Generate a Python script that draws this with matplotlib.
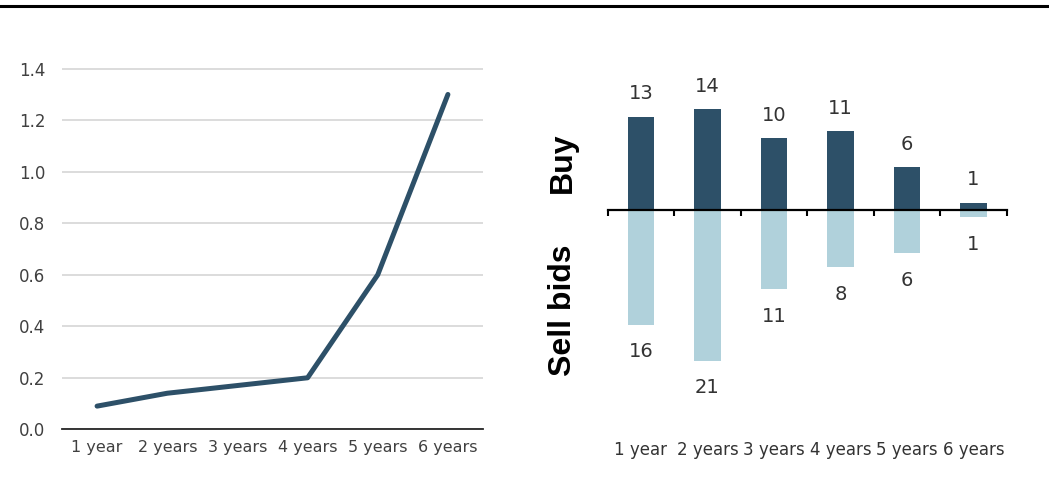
import numpy as np
import matplotlib.pyplot as plt
from matplotlib.lines import Line2D
import matplotlib.transforms as mtransforms

# data
categories = ['1 year', '2 years', '3 years', '4 years', '5 years', '6 years']
line_values = [0.09, 0.14, 0.17, 0.20, 0.60, 1.30]
buy_bids = [13, 14, 10, 11, 6, 1]
sell_bids = [16, 21, 11, 8, 6, 1]

dark = '#2D5068'
light = '#B0D1DB'
txt = '#333333'

plt.rcParams['font.family'] = ['DejaVu Sans']

fig = plt.figure(figsize=(10.49, 4.80), dpi=100)

# top rule
fig.add_artist(Line2D([0, 1], [1 - 6 / 480, 1 - 6 / 480], color='black', lw=2.2,
                      transform=fig.transFigure))

# left: line chart
ax1 = fig.add_axes([62 / 1049, 1 - 429.3 / 480, 421 / 1049, 360.6 * 1.41 / 1.4 / 480])
x = np.arange(len(categories))
ax1.plot(x, line_values, color=dark, lw=3.6, solid_capstyle='round', solid_joinstyle='round',
         zorder=3)
ax1.set_xlim(-0.5, len(categories) - 0.5)
ax1.set_ylim(0, 1.41)
ax1.set_yticks(np.arange(0, 1.41, 0.2))
ax1.set_yticklabels(['%.1f' % v for v in np.arange(0, 1.41, 0.2)])
ax1.set_xticks(x)
ax1.set_xticklabels(categories)
ax1.grid(axis='y', color='#D9D9D9', lw=1.3)
ax1.set_axisbelow(True)
for s in ['top', 'right', 'left']:
    ax1.spines[s].set_visible(False)
ax1.spines['bottom'].set_color('#262626')
ax1.spines['bottom'].set_linewidth(1.3)
ax1.spines['bottom'].set_zorder(4)
ax1.tick_params(axis='y', length=0, pad=12, labelsize=12, labelcolor='#404040')
ax1.tick_params(axis='x', length=0, pad=8, labelsize=11.5, labelcolor='#404040')

# right: buy / sell bars
ax2 = fig.add_axes([607.7 / 1049, 1 - 440 / 480, 399 / 1049, 380 / 480])
ax2.bar(x, buy_bids, width=0.4, color=dark, zorder=2)
ax2.bar(x, [-v for v in sell_bids], width=0.4, color=light, zorder=2)
ax2.set_xlim(-0.5, len(categories) - 0.5)
ax2.set_ylim(-32.03, 20.89)
for i in range(len(categories)):
    ax2.annotate(str(buy_bids[i]), (x[i], buy_bids[i]), xytext=(0, 16.5),
                 textcoords='offset points', ha='center', va='center',
                 fontsize=14, color=txt)
    ax2.annotate(str(sell_bids[i]), (x[i], -sell_bids[i]), xytext=(0, -19.5),
                 textcoords='offset points', ha='center', va='center',
                 fontsize=14, color=txt)
trans = mtransforms.blended_transform_factory(ax2.transData, ax2.transAxes)
for i, c in enumerate(categories):
    ax2.text(x[i], -0.027, c, transform=trans, ha='center', va='center',
             fontsize=12, color=txt)
for s in ['top', 'right', 'left']:
    ax2.spines[s].set_visible(False)
ax2.spines['bottom'].set_position(('data', 0))
ax2.spines['bottom'].set_color('black')
ax2.spines['bottom'].set_linewidth(1.6)
ax2.spines['bottom'].set_zorder(3)
ax2.set_xticks(np.arange(-0.5, len(categories), 1))
ax2.set_xticklabels([])
ax2.set_yticks([])
ax2.tick_params(axis='x', direction='out', length=4, width=1.5, color='black')

fig.text(563 / 1049, 1 - 163 / 480, 'Buy', rotation=90, ha='center', va='center',
         fontsize=23, fontweight='bold', family=['Liberation Sans', 'DejaVu Sans'])
fig.text(563 / 1049, 1 - 310 / 480, 'Sell bids', rotation=90, ha='center', va='center',
         fontsize=23, fontweight='bold', family=['Liberation Sans', 'DejaVu Sans'])

fig.savefig('out.png', dpi=100)
